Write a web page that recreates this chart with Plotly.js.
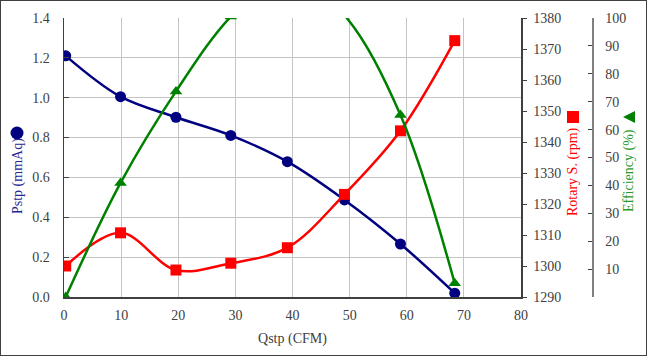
<!DOCTYPE html>
<html>
<head>
<meta charset="utf-8">
<script src="https://cdn.plot.ly/plotly-3.0.1.min.js"></script>
<style>
  html, body { margin: 0; padding: 0; background: #fff; }
  #chart { width: 647px; height: 356px; box-sizing: border-box; border: 1px solid #404040; }
</style>
</head>
<body>
<div id="chart"></div>
<script>
// Data
const qstp = [0.3, 9.9, 19.6, 29.2, 39.1, 49.1, 58.9, 68.4];
const pstp = [1.21, 1.005, 0.902, 0.811, 0.679, 0.487, 0.266, 0.019];
const rotary = [1300.0, 1310.7, 1298.7, 1300.9, 1305.9, 1323.1, 1343.6, 1372.7];
const efficiency = [0, 40.9, 73.7, 100.5, 117, 101, 65.2, 4.9];

const xTicks = [0, 10, 20, 30, 40, 50, 60, 70, 80];
const effTicks = [0, 10, 20, 30, 40, 50, 60, 70, 80, 90, 100];
const effTickText = ['', '10', '20', '30', '40', '50', '60', '70', '80', '90', '100'];

const NAVY = '#000080', RED = '#ff0000', GREEN = '#008000';
const FONT = "'Liberation Serif', 'Times New Roman', serif";
const TICKC = '#404040';

const traces = [
  { x: qstp, y: pstp, type: 'scatter', mode: 'lines+markers', yaxis: 'y',
    line: { color: NAVY, width: 2.5, shape: 'spline', smoothing: 1 },
    marker: { color: NAVY, size: 11, symbol: 'circle' } },
  { x: qstp, y: rotary, type: 'scatter', mode: 'lines+markers', yaxis: 'y2',
    line: { color: RED, width: 2.5, shape: 'spline', smoothing: 1 },
    marker: { color: RED, size: 11, symbol: 'square' } },
  { x: qstp, y: efficiency, type: 'scatter', mode: 'lines+markers', yaxis: 'y3',
    line: { color: GREEN, width: 2.5, shape: 'spline', smoothing: 1 },
    marker: { color: GREEN, size: 11, symbol: 'triangle-up' } }
];

const W = 528, H = 279; // paper size in px
function px(xImg) { return (xImg - 64) / W; }
function py(yImg) { return (297 - yImg) / H; }

const layout = {
  width: 645, height: 354,
  margin: { l: 63, r: 54, t: 17, b: 58 },
  paper_bgcolor: '#fff', plot_bgcolor: '#fff',
  showlegend: false,
  font: { family: FONT, size: 14, color: TICKC },
  xaxis: {
    domain: [0, 457 / 528], range: [0, 80], tickvals: xTicks,
    showgrid: true, gridcolor: '#c4c4c4', gridwidth: 1,
    showline: true, linecolor: '#404040', linewidth: 2, mirror: false,
    ticks: '', zeroline: false, ticklabelstandoff: 4,
    tickfont: { family: FONT, size: 14, color: TICKC },
    title: { text: 'Qstp (CFM)', font: { family: FONT, size: 14, color: TICKC }, standoff: 11 }
  },
  yaxis: {
    range: [0, 1.4], dtick: 0.2, tick0: 0, tickformat: '.1f',
    showgrid: true, gridcolor: '#c4c4c4', gridwidth: 1,
    showline: true, linecolor: '#404040', linewidth: 1.5,
    ticks: 'inside', ticklen: 5, tickcolor: '#404040', zeroline: false,
    ticklabelstandoff: 10,
    tickfont: { family: FONT, size: 14, color: TICKC }
  },
  yaxis2: {
    overlaying: 'y', side: 'right', anchor: 'x',
    range: [1290, 1380], dtick: 10, tick0: 1290,
    showgrid: false, showline: true, linecolor: '#404040', linewidth: 1.5,
    ticks: 'outside', ticklen: 4, tickcolor: '#404040', zeroline: false,
    ticklabelstandoff: 4,
    tickfont: { family: FONT, size: 14, color: TICKC }
  },
  yaxis3: {
    overlaying: 'y', side: 'right', anchor: 'free', position: 1,
    range: [0, 100], tickvals: effTicks, ticktext: effTickText,
    showgrid: false, showline: true, linecolor: '#808080', linewidth: 1.5,
    ticks: 'inside', ticklen: 4, tickcolor: '#404040', zeroline: false,
    ticklabelstandoff: 9,
    tickfont: { family: FONT, size: 14, color: TICKC }
  },
  annotations: [
    { xref: 'paper', yref: 'paper', x: px(18), y: py(176), text: 'Pstp (mmAq)', textangle: -90,
      showarrow: false, xanchor: 'center', yanchor: 'middle',
      font: { family: FONT, size: 14, color: '#262693' } },
    { xref: 'paper', yref: 'paper', x: px(573), y: py(172), text: 'Rotary S. (rpm)', textangle: -90,
      showarrow: false, xanchor: 'center', yanchor: 'middle',
      font: { family: FONT, size: 14, color: RED } },
    { xref: 'paper', yref: 'paper', x: px(629), y: py(171), text: 'Efficiency (%)', textangle: -90,
      showarrow: false, xanchor: 'center', yanchor: 'middle',
      font: { family: FONT, size: 14, color: '#2a9a2a' } }
  ],
  shapes: [
    { type: 'circle', xref: 'paper', yref: 'paper', xsizemode: 'pixel', ysizemode: 'pixel',
      xanchor: px(17), yanchor: py(133), x0: -6.5, x1: 6.5, y0: -6.5, y1: 6.5,
      fillcolor: NAVY, line: { width: 0 } },
    { type: 'rect', xref: 'paper', yref: 'paper', xsizemode: 'pixel', ysizemode: 'pixel',
      xanchor: px(573), yanchor: py(117), x0: -6, x1: 6, y0: -6, y1: 6,
      fillcolor: RED, line: { width: 0 } },
    { type: 'path', xref: 'paper', yref: 'paper', xsizemode: 'pixel', ysizemode: 'pixel',
      xanchor: px(629), yanchor: py(117), path: 'M -6 0 L 6 6 L 6 -6 Z',
      fillcolor: GREEN, line: { width: 0 } }
  ]
};

Plotly.newPlot('chart', traces, layout, { displayModeBar: false, staticPlot: true });
</script>
</body>
</html>
